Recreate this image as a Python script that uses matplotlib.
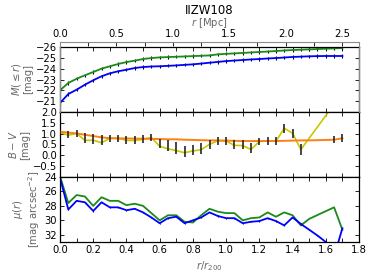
import numpy as np
import matplotlib
matplotlib.use('Agg')
import matplotlib.pyplot as plt

# radius grid (r / r200) and conversion to Mpc
r200_mpc = 1.472
x_all = np.round(np.arange(0, 1.701, 0.05), 2)

# panel 1: integrated magnitude M(<=r)
m_green = [-22.0, -22.68, -23.07, -23.39, -23.69, -24.0, -24.22, -24.43, -24.61, -24.74,
           -24.89, -24.98, -25.04, -25.07, -25.1, -25.13, -25.16, -25.19, -25.22, -25.32,
           -25.37, -25.41, -25.45, -25.5, -25.54, -25.58, -25.63, -25.68, -25.72, -25.75,
           -25.78, -25.81, -25.84, -25.87, -25.9]
m_blue = [-20.83, -21.66, -22.06, -22.52, -22.93, -23.3, -23.57, -23.76, -23.9, -24.06,
          -24.15, -24.2, -24.22, -24.26, -24.3, -24.35, -24.4, -24.47, -24.55, -24.62,
          -24.7, -24.75, -24.8, -24.85, -24.89, -24.94, -24.98, -25.03, -25.08, -25.11,
          -25.14, -25.16, -25.17, -25.17, -25.17]

# panel 2: B-V colour
bv_x = [0.0, 0.05, 0.1, 0.15, 0.2, 0.25, 0.3, 0.35, 0.4, 0.45, 0.5, 0.55, 0.6, 0.65, 0.7,
        0.75, 0.8, 0.85, 0.9, 0.95, 1.0, 1.05, 1.1, 1.15, 1.2, 1.25, 1.3, 1.35, 1.4, 1.45, 1.65]
bv_local = [1.06, 0.93, 1.01, 0.69, 0.70, 0.58, 0.79, 0.79, 0.69, 0.68, 0.74, 0.82, 0.42,
            0.30, 0.22, 0.12, 0.20, 0.26, 0.51, 0.67, 0.66, 0.46, 0.45, 0.27, 0.64, 0.66,
            0.65, 1.25, 1.02, 0.27, 2.35]
bv_err_x = bv_x[:-1] + [1.65, 1.7]
bv_err_mid = [1.06, 0.98, 1.01, 0.80, 0.76, 0.70, 0.79, 0.79, 0.72, 0.72, 0.76, 0.82, 0.55,
              0.45, 0.35, 0.18, 0.25, 0.30, 0.50, 0.67, 0.66, 0.50, 0.50, 0.35, 0.64, 0.66,
              0.65, 1.25, 1.02, 0.27, 0.72, 0.80]
bv_err = [0.08, 0.16, 0.15, 0.22, 0.22, 0.22, 0.16, 0.16, 0.18, 0.18, 0.17, 0.15, 0.22,
          0.25, 0.28, 0.27, 0.25, 0.25, 0.2, 0.18, 0.18, 0.2, 0.2, 0.22, 0.18, 0.17,
          0.18, 0.2, 0.2, 0.25, 0.17, 0.18]
bv_cum = [1.09, 1.05, 1.01, 0.95, 0.89, 0.83, 0.79, 0.78, 0.78, 0.77, 0.77, 0.76, 0.75,
          0.74, 0.74, 0.72, 0.71, 0.70, 0.69, 0.69, 0.68, 0.67, 0.66, 0.66, 0.66, 0.66,
          0.66, 0.67, 0.68, 0.69, 0.69, 0.70, 0.71, 0.72, 0.79]

# panel 3: surface brightness
mu_green_x = [0.0, 0.05, 0.1, 0.15, 0.2, 0.25, 0.3, 0.35, 0.4, 0.45, 0.5, 0.55, 0.6, 0.65,
              0.7, 0.75, 0.8, 0.85, 0.9, 0.95, 1.0, 1.05, 1.1, 1.15, 1.2, 1.25, 1.3, 1.35,
              1.4, 1.45, 1.5, 1.65, 1.7]
mu_green = [23.9, 27.6, 26.5, 26.7, 28.0, 26.8, 27.3, 27.3, 27.9, 27.7, 28.0, 29.0, 30.0,
            29.3, 29.3, 30.2, 30.3, 29.3, 28.4, 28.8, 29.0, 29.0, 30.0, 29.7, 29.6, 28.9,
            29.5, 28.9, 29.3, 30.7, 29.8, 28.2, 31.3]
mu_blue = [24.1, 28.5, 27.3, 27.5, 28.7, 27.5, 28.2, 28.2, 28.6, 28.4, 28.9, 29.6, 30.4,
           29.7, 29.5, 30.4, 30.0, 29.6, 28.9, 29.4, 29.7, 29.7, 30.4, 30.2, 30.1, 29.7,
           30.1, 30.7, 29.6, 30.5, 31.3, 32.1, 33.0, 35.0, 31.1]

GREEN = '#1a8a1a'
BLUE = '#0000ff'
LABEL_C = '0.4'
FS = 7.2

fig = plt.figure(figsize=(3.74, 2.80), dpi=100)
L, W = 60 / 374, 299 / 374
def fy(px):
    return 1 - px / 280

ax1 = fig.add_axes([L, fy(112), W, fy(47) - fy(112)])
ax2 = fig.add_axes([L, fy(177), W, fy(112) - fy(177)])
ax3 = fig.add_axes([L, fy(242), W, fy(177) - fy(242)])

# top Mpc axis sits slightly above the first panel
axt = fig.add_axes([L, fy(112), W, fy(41.7) - fy(112)])
axt.patch.set_visible(False)
axt.set_xlim(0, 1.8 * r200_mpc)
axt.set_yticks([])
for s in ['left', 'right', 'top']:
    axt.spines[s].set_color('0.55')
    axt.spines[s].set_linewidth(0.8)
axt.spines['bottom'].set_visible(False)
axt.xaxis.set_ticks_position('top')
axt.xaxis.set_label_position('top')
axt.set_xticks(np.arange(0, 2.51, 0.5))
axt.set_xticks(np.arange(0, 2.6, 0.25), minor=True)
axt.tick_params(axis='x', which='both', direction='in', length=3, width=0.6,
                labelsize=FS, pad=2)
axt.set_xlabel(r'$r$ [Mpc]', fontsize=FS, color=LABEL_C, labelpad=2)
fig.text(0.5 * (60 + 359) / 374, fy(11), 'IIZW108', ha='center', va='center', fontsize=8.5)

eb = dict(ecolor='k', elinewidth=0.8, capsize=0)
ax1.errorbar(x_all, m_green, yerr=0.15, color=GREEN, lw=1.3, **eb)
ax1.errorbar(x_all, m_blue, yerr=0.15, color=BLUE, lw=1.3, **eb)
ax1.set_ylim(-20, -26)
ax1.set_yticks([-26, -25, -24, -23, -22, -21])

ax2.plot(x_all, bv_cum, color='#ff8010', lw=1.4, zorder=3)
ax2.plot(bv_x, bv_local, color='#c8c800', lw=1.2, zorder=2)
ax2.errorbar(bv_err_x, bv_err_mid, yerr=bv_err, fmt='none', ecolor='0.15',
             elinewidth=1.2, capsize=0, zorder=4)
ax2.set_ylim(-1, 2)
ax2.set_yticks([-0.5, 0.0, 0.5, 1.0, 1.5, 2.0])

ax3.plot(mu_green_x, mu_green, color=GREEN, lw=1.3)
ax3.errorbar(x_all, mu_blue, yerr=0.08, color=BLUE, lw=1.3, **eb)
ax3.set_ylim(33, 24)
ax3.set_yticks([24, 26, 28, 30, 32])

for ax in (ax1, ax2, ax3):
    ax.set_xlim(0, 1.8)
    ax.set_xticks(np.arange(0, 1.81, 0.2))
    ax.set_xticks(np.arange(0, 1.81, 0.1), minor=True)
    ax.tick_params(which='both', direction='in', top=True, right=True,
                   length=3, width=0.6, labelsize=FS, pad=2)
    for s in ax.spines.values():
        s.set_linewidth(0.9)
for ax in (ax1, ax2):
    ax.tick_params(labelbottom=False)

ax1.set_ylabel('$M(\\leq r)$\n[mag]', fontsize=FS, color=LABEL_C, linespacing=1.1, labelpad=2)
ax2.set_ylabel('$B-V$\n[mag]', fontsize=FS, color=LABEL_C, linespacing=1.1, labelpad=2)
ax3.set_ylabel('$\\mu(r)$\n[mag arcsec$^{-2}$]', fontsize=FS, color=LABEL_C, linespacing=1.1, labelpad=2)
ax3.set_xlabel('$r/r_{200}$', fontsize=FS, color=LABEL_C, labelpad=3)

fig.savefig('out.png', dpi=100)
